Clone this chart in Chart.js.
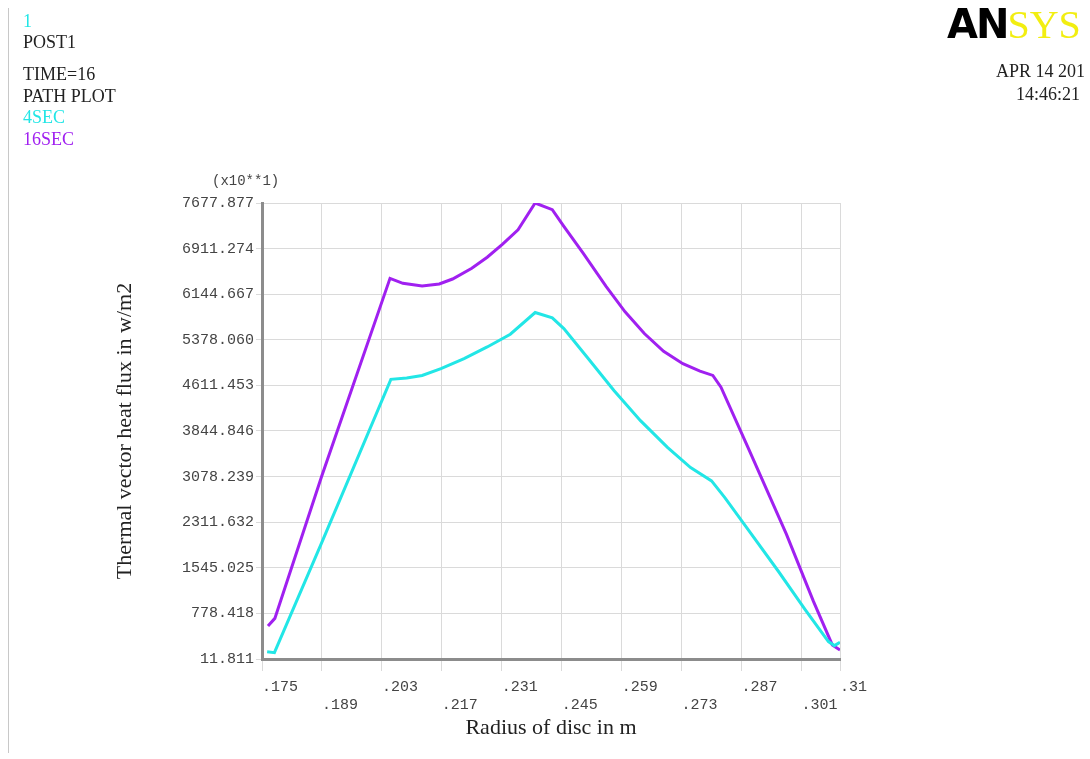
<!DOCTYPE html>
<html>
<head>
<meta charset="utf-8">
<script src="https://cdn.jsdelivr.net/npm/chart.js@4"></script>
<style>
  body { margin: 0; background: #fff; }
  #wrap { position: relative; width: 1090px; height: 759px; overflow: hidden; }
  #c { position: absolute; left: 0; top: 0; }
  .t { position: absolute; font-family: "Liberation Serif", serif; font-size: 18px; line-height: 18px; color: #222; white-space: nowrap; }
  .edge { position: absolute; left: 8px; top: 8px; width: 1px; height: 745px; background: #c8c8c8; }
</style>
</head>
<body>
<div id="wrap">
  <canvas id="c" width="1090" height="759"></canvas>
  <div class="edge"></div>
  <div class="t" style="left:23px;top:12px;color:#22e6e6">1</div>
  <div class="t" style="left:23px;top:33px">POST1</div>
  <div class="t" style="left:23px;top:65px">TIME=16</div>
  <div class="t" style="left:23px;top:87px">PATH PLOT</div>
  <div class="t" style="left:23px;top:108px;color:#22e6e6">4SEC</div>
  <div class="t" style="left:23px;top:130px;color:#a020f0">16SEC</div>
  <div class="t" style="left:947px;top:2px;font-size:40px;line-height:44px">
    <span style="font-family:'DejaVu Sans',sans-serif;font-weight:900;color:#000;letter-spacing:-2px">AN</span><span style="color:#f2ee10">SYS</span>
  </div>
  <div class="t" style="right:5px;top:62px;text-align:right">APR 14 201</div>
  <div class="t" style="right:10px;top:85px;text-align:right">14:46:21</div>
  <div class="t" style="left:212px;top:172px;font-family:'Liberation Mono',monospace;font-size:14px;color:#444">(x10**1)</div>
</div>
<script>
// Path data (radius in m, flux in the plot's x10**1 units)
const radius4 = [0.1762, 0.1779, 0.1889, 0.2051, 0.2088, 0.2124, 0.2168, 0.2222, 0.2276, 0.2330, 0.2388, 0.2428, 0.2455, 0.2509, 0.2572, 0.2634, 0.2697, 0.2751, 0.2800, 0.2831, 0.2885, 0.2956, 0.3019, 0.3073, 0.3087, 0.3100];
const flux4   = [134, 118, 1960, 4713, 4735, 4779, 4892, 5061, 5258, 5472, 5837, 5747, 5567, 5089, 4526, 4019, 3569, 3231, 3006, 2725, 2190, 1487, 839, 305, 237, 293];

const radius16 = [0.1764, 0.1780, 0.1889, 0.2049, 0.2079, 0.2124, 0.2164, 0.2195, 0.2240, 0.2276, 0.2312, 0.2348, 0.2388, 0.2428, 0.2455, 0.2500, 0.2554, 0.2598, 0.2643, 0.2688, 0.2733, 0.2773, 0.2803, 0.2822, 0.2885, 0.2975, 0.3038, 0.3082, 0.3100];
const flux16   = [566, 695, 3076, 6411, 6327, 6282, 6316, 6400, 6580, 6766, 6986, 7228, 7678, 7565, 7284, 6834, 6271, 5849, 5483, 5184, 4976, 4852, 4779, 4582, 3569, 2106, 980, 248, 164];

const xTicks = [0.175, 0.189, 0.203, 0.217, 0.231, 0.245, 0.259, 0.273, 0.287, 0.301, 0.31];
const xTickLabels = ['.175', '.189', '.203', '.217', '.231', '.245', '.259', '.273', '.287', '.301', '.31'];
const yTicks = [11.811, 778.418, 1545.025, 2311.632, 3078.239, 3844.846, 4611.453, 5378.060, 6144.667, 6911.274, 7677.877];
const yTickLabels = ['11.811', '778.418', '1545.025', '2311.632', '3078.239', '3844.846', '4611.453', '5378.060', '6144.667', '6911.274', '7677.877'];

const toPoints = (xs, ys) => xs.map((x, i) => ({ x, y: ys[i] }));

const gridColor = '#dadada';
const axisColor = '#8c8c8c';
const tickFont = { family: 'Liberation Mono', size: 15 };

new Chart(document.getElementById('c'), {
  type: 'scatter',
  data: {
    datasets: [
      { label: '4SEC', data: toPoints(radius4, flux4), showLine: true, borderColor: '#22e6e6', borderWidth: 3, pointRadius: 0, tension: 0 },
      { label: '16SEC', data: toPoints(radius16, flux16), showLine: true, borderColor: '#a020f0', borderWidth: 3, pointRadius: 0, tension: 0 }
    ]
  },
  options: {
    responsive: false,
    animation: false,
    layout: { padding: { left: 100, top: 203, right: 250, bottom: 0 } },
    plugins: { legend: { display: false }, tooltip: { enabled: false } },
    scales: {
      x: {
        type: 'linear',
        min: 0.175, max: 0.31,
        afterBuildTicks: (s) => { s.ticks = xTicks.map(v => ({ value: v })); },
        afterFit: (s) => { s.height = 100; },
        grid: { color: gridColor, tickLength: 12, tickColor: gridColor },
        border: { color: axisColor, width: 3 },
        ticks: {
          autoSkip: false, maxRotation: 0, align: 'start', padding: 7,
          color: '#444', font: tickFont,
          callback: (v, i) => i % 2 ? ['', xTickLabels[i]] : xTickLabels[i]
        },
        title: {
          display: true, text: 'Radius of disc in m', color: '#222',
          font: { family: 'Liberation Serif', size: 22 },
          padding: { top: 0, bottom: 18 }
        }
      },
      y: {
        type: 'linear',
        min: 11.811, max: 7677.877,
        afterBuildTicks: (s) => { s.ticks = yTicks.map(v => ({ value: v })); },
        afterFit: (s) => { s.width = 162; },
        grid: { color: gridColor, tickLength: 6, tickColor: gridColor },
        border: { color: axisColor, width: 3 },
        ticks: {
          padding: 2, color: '#444', font: tickFont,
          callback: (v, i) => yTickLabels[i]
        },
        title: {
          display: true, text: 'Thermal vector heat flux in w/m2', color: '#222',
          font: { family: 'Liberation Serif', size: 22 },
          padding: { top: 12, bottom: 0 }
        }
      }
    }
  }
});
</script>
</body>
</html>
